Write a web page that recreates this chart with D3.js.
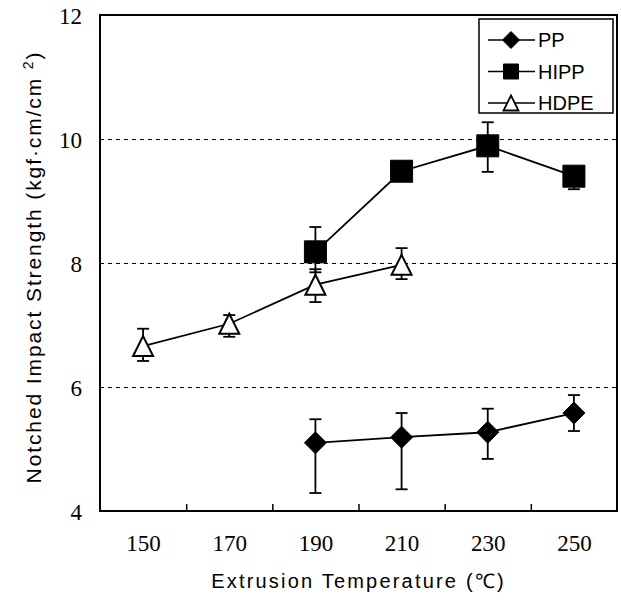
<!DOCTYPE html>
<html>
<head>
<meta charset="utf-8">
<script src="https://cdn.jsdelivr.net/npm/d3@7"></script>
<style>
  body { margin: 0; background: #fff; }
  .tick text { font-family: "Liberation Serif", "DejaVu Serif", serif; }
</style>
</head>
<body>
<script>
// Data
var temps = [150, 170, 190, 210, 230, 250];
var tickBounds = [160, 180, 200, 220, 240];
var yTicks = [4, 6, 8, 10, 12];
var gridVals = [6, 8, 10];

var ppTemp = [190, 210, 230, 250];
var ppMean = [5.10, 5.19, 5.27, 5.58];
var ppHi   = [5.48, 5.58, 5.65, 5.87];
var ppLo   = [4.29, 4.35, 4.84, 5.29];

var hippTemp = [190, 210, 230, 250];
var hippMean = [8.18, 9.48, 9.89, 9.40];
var hippHi   = [8.58, 9.55, 10.27, 9.45];
var hippLo   = [7.85, 9.40, 9.47, 9.19];

var hdpeTemp = [150, 170, 190, 210];
var hdpeMean = [6.66, 7.02, 7.65, 7.97];
var hdpeHi   = [6.94, 7.16, 7.90, 8.24];
var hdpeLo   = [6.42, 6.81, 7.37, 7.74];

var seriesNames = ["PP", "HIPP", "HDPE"];

//Define Margin
var margin = {left: 100, right: 4, top: 15, bottom: 91},
    width = 621 - margin.left - margin.right,
    height = 602 - margin.top - margin.bottom;

var svg = d3.select("body")
    .append("svg")
    .attr("width", 621)
    .attr("height", 602)
    .append("g")
    .attr("transform", "translate(" + margin.left + "," + margin.top + ")");

//Define Scales
var xScale = d3.scaleLinear().domain([140, 260]).range([0, width]);
var yScale = d3.scaleLinear().domain([4, 12]).range([height, 0]);

//Dashed grid lines
svg.selectAll(".grid")
    .data(gridVals)
    .enter().append("line")
    .attr("class", "grid")
    .attr("x1", 0).attr("x2", width)
    .attr("y1", function(d) { return yScale(d) + 0.5; })
    .attr("y2", function(d) { return yScale(d) + 0.5; })
    .attr("stroke", "#000")
    .attr("stroke-width", 1)
    .attr("stroke-dasharray", "4,4");

//Frame
svg.append("rect")
    .attr("x", 0).attr("y", 0)
    .attr("width", width).attr("height", height)
    .attr("fill", "none")
    .attr("stroke", "#000")
    .attr("stroke-width", 2);

//X axis: inward ticks between categories, labels at categories
var gX = svg.append("g")
    .attr("transform", "translate(0," + height + ")")
    .call(d3.axisBottom(xScale).tickValues(tickBounds).tickSize(-7).tickFormat(""));
gX.select(".domain").remove();
gX.selectAll(".tick line").attr("stroke-width", 1.5);

var gXl = svg.append("g")
    .attr("transform", "translate(0," + height + ")")
    .call(d3.axisBottom(xScale).tickValues(temps).tickSize(0).tickPadding(24).tickFormat(d3.format("d")));
gXl.select(".domain").remove();
gXl.selectAll("text").attr("font-size", "23px").attr("fill", "#000");

//Y axis labels
var gY = svg.append("g")
    .call(d3.axisLeft(yScale).tickValues(yTicks).tickSize(0).tickPadding(18));
gY.select(".domain").remove();
gY.selectAll("text").attr("font-size", "23px").attr("fill", "#000").attr("dy", "0.36em");

//Axis titles
svg.append("text")
    .attr("x", width / 2)
    .attr("y", height + 77)
    .attr("text-anchor", "middle")
    .attr("font-family", "Arial, 'Liberation Sans', sans-serif")
    .attr("font-size", "20px")
    .attr("letter-spacing", "2.2px")
    .text("Extrusion Temperature (\u2103)");

var yt = svg.append("text")
    .attr("transform", "translate(" + (-59) + "," + (height / 2 + 4) + ") rotate(-90)")
    .attr("text-anchor", "middle")
    .attr("font-family", "Arial, 'Liberation Sans', sans-serif")
    .attr("font-size", "21px")
    .attr("letter-spacing", "1.9px");
yt.append("tspan").text("Notched Impact Strength (kgf\u00b7cm/cm ");
yt.append("tspan").attr("font-size", "14px").attr("dy", "-8").text("2");
yt.append("tspan").attr("dy", "8").text(")");

//Helpers
function zip(t, m, hi, lo) {
    return t.map(function(d, i) { return {t: d, m: m[i], hi: hi[i], lo: lo[i]}; });
}
var line = d3.line()
    .x(function(d) { return xScale(d.t); })
    .y(function(d) { return yScale(d.m); });

function drawErrors(data) {
    var g = svg.append("g").attr("stroke", "#000").attr("stroke-width", 1.8);
    g.selectAll(".ev").data(data).enter().append("line")
        .attr("x1", function(d) { return xScale(d.t); })
        .attr("x2", function(d) { return xScale(d.t); })
        .attr("y1", function(d) { return yScale(d.hi); })
        .attr("y2", function(d) { return yScale(d.lo); });
    g.selectAll(".eh").data(data).enter().append("line")
        .attr("x1", function(d) { return xScale(d.t) - 6; })
        .attr("x2", function(d) { return xScale(d.t) + 6; })
        .attr("y1", function(d) { return yScale(d.hi); })
        .attr("y2", function(d) { return yScale(d.hi); });
    g.selectAll(".el").data(data).enter().append("line")
        .attr("x1", function(d) { return xScale(d.t) - 6; })
        .attr("x2", function(d) { return xScale(d.t) + 6; })
        .attr("y1", function(d) { return yScale(d.lo); })
        .attr("y2", function(d) { return yScale(d.lo); });
}

function markerPath(kind, s) {
    if (kind == "PP") return "M0," + (-s) + "L" + s + ",0L0," + s + "L" + (-s) + ",0Z";
    if (kind == "HIPP") return "M" + (-s) + "," + (-s) + "H" + s + "V" + s + "H" + (-s) + "Z";
    return "M0," + (-s) + "L" + s + "," + s + "H" + (-s) + "Z";
}

var series = [
    {name: "PP", data: zip(ppTemp, ppMean, ppHi, ppLo), size: 11},
    {name: "HIPP", data: zip(hippTemp, hippMean, hippHi, hippLo), size: 11},
    {name: "HDPE", data: zip(hdpeTemp, hdpeMean, hdpeHi, hdpeLo), size: 10}
];

series.forEach(function(s) {
    drawErrors(s.data);
    svg.append("path")
        .datum(s.data)
        .attr("d", line)
        .attr("fill", "none")
        .attr("stroke", "#000")
        .attr("stroke-width", 1.8);
});

series.forEach(function(s) {
    svg.selectAll(".m" + s.name)
        .data(s.data)
        .enter().append("path")
        .attr("transform", function(d) { return "translate(" + xScale(d.t) + "," + yScale(d.m) + ")"; })
        .attr("d", markerPath(s.name, s.size))
        .attr("fill", s.name == "HDPE" ? "#fff" : "#000")
        .attr("stroke", "#000")
        .attr("stroke-width", s.name == "HDPE" ? 2 : 1);
});

//Legend
var lg = svg.append("g").attr("transform", "translate(" + (width - 138) + ",4)");
lg.append("rect")
    .attr("width", 134).attr("height", 94)
    .attr("fill", "#fff")
    .attr("stroke", "#000")
    .attr("stroke-width", 1.5);

var items = lg.selectAll(".item")
    .data(seriesNames)
    .enter().append("g")
    .attr("transform", function(d, i) { return "translate(0," + (21 + i * 31.5) + ")"; });
items.append("line")
    .attr("x1", 9).attr("x2", 56)
    .attr("stroke", "#000").attr("stroke-width", 1.5);
items.append("path")
    .attr("transform", "translate(32,0)")
    .attr("d", function(d) { return markerPath(d, d == "PP" ? 8.5 : 7.5); })
    .attr("fill", function(d) { return d == "HDPE" ? "#fff" : "#000"; })
    .attr("stroke", "#000")
    .attr("stroke-width", function(d) { return d == "HDPE" ? 1.8 : 1; });
items.append("text")
    .attr("x", 59)
    .attr("dy", "0.36em")
    .attr("font-family", "Arial, 'Liberation Sans', sans-serif")
    .attr("font-size", "20px")
    .text(function(d) { return d; });
</script>
</body>
</html>
